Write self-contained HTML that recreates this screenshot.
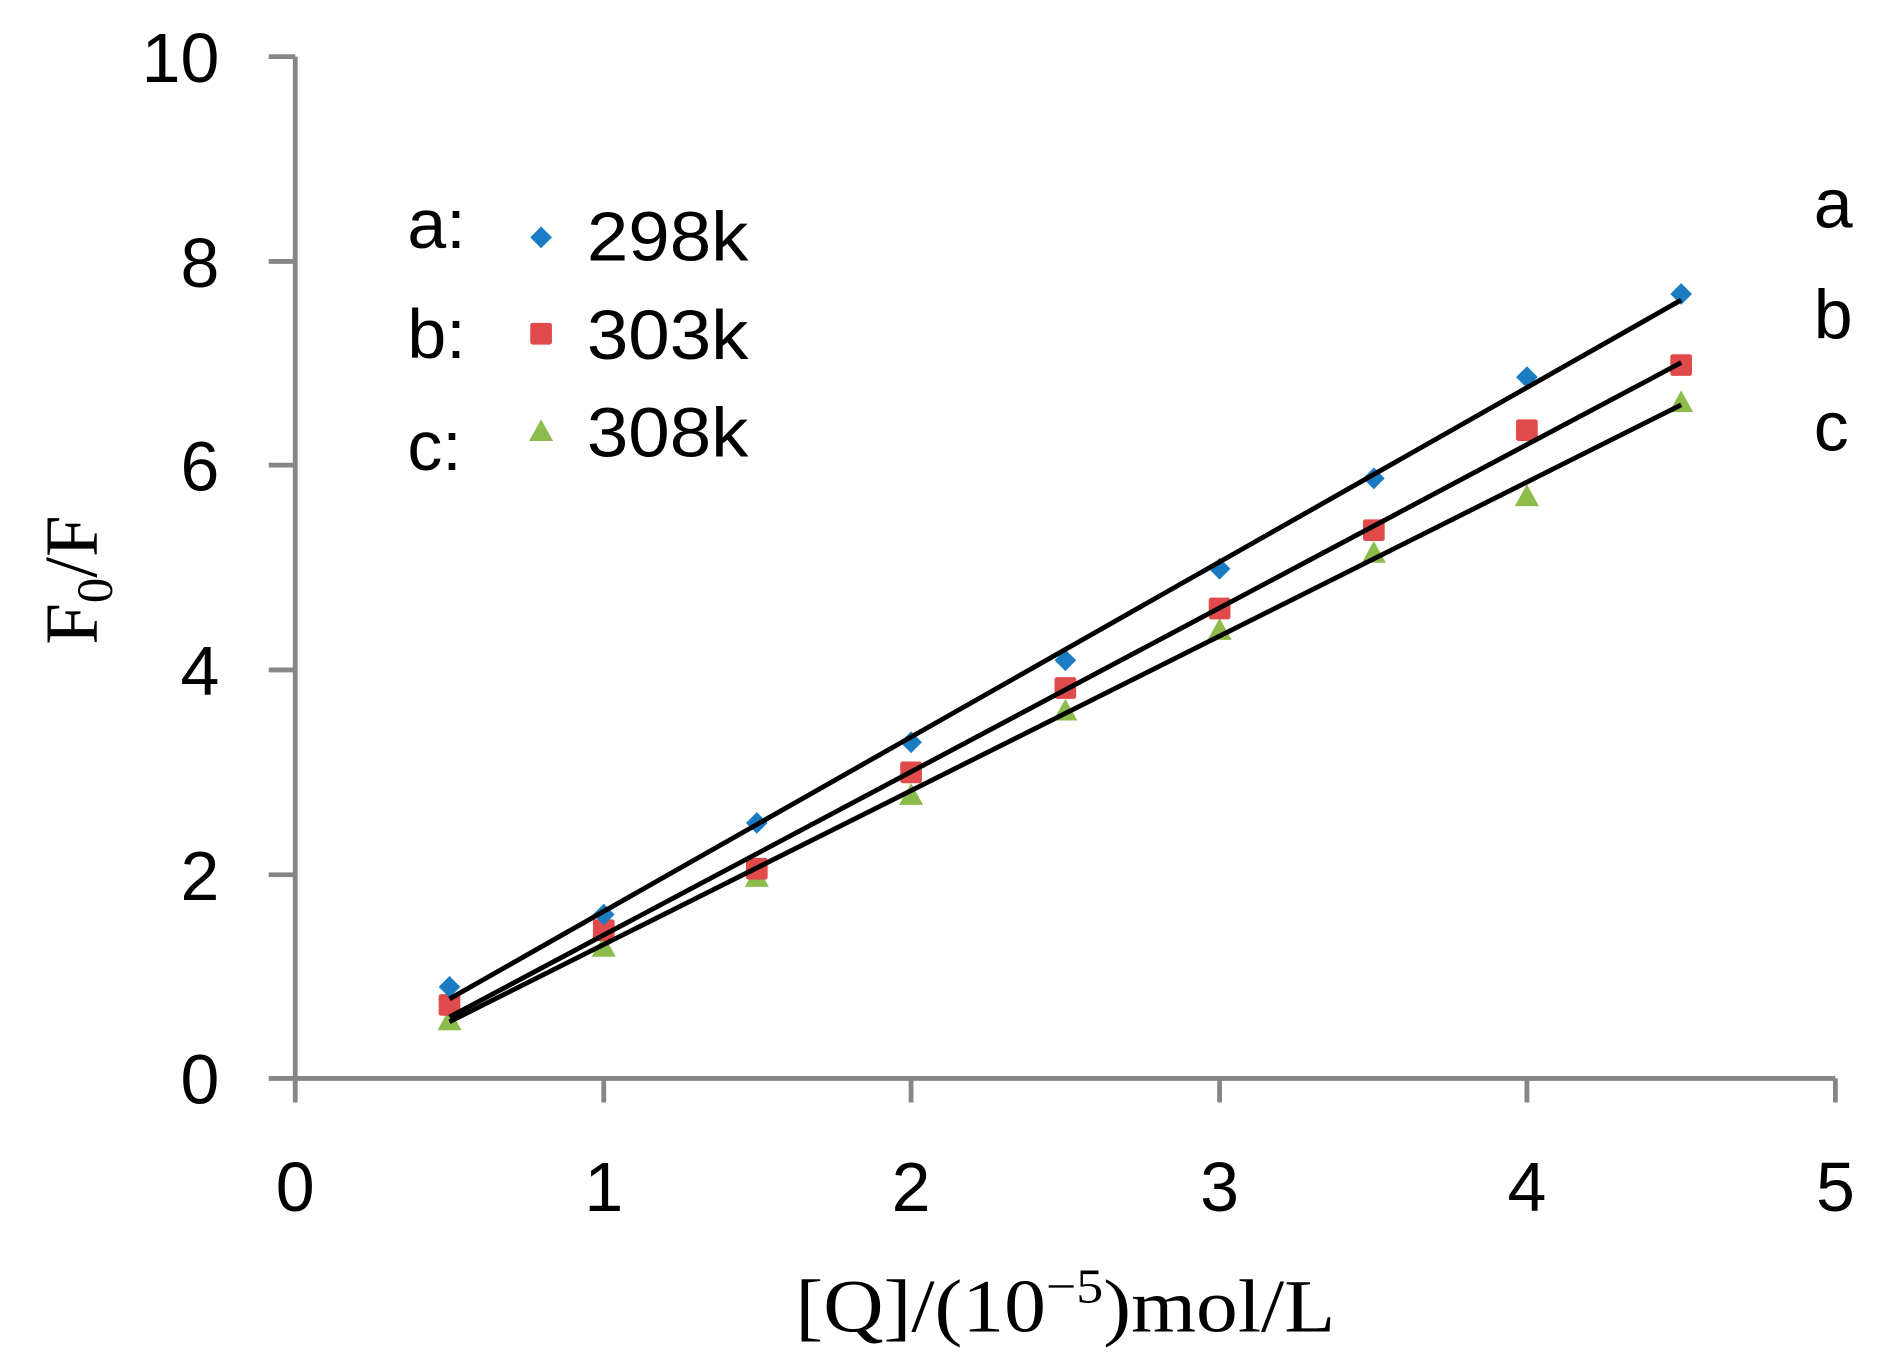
<!DOCTYPE html>
<html><head><style>html,body{margin:0;padding:0;background:#fff}svg{display:block}</style></head>
<body>
<svg width="1880" height="1370" viewBox="0 0 1560 1137" preserveAspectRatio="none" xmlns="http://www.w3.org/2000/svg">
<rect width="1560" height="1137" fill="#fff"/>
<g stroke="#868686" stroke-width="4" fill="none">
<line x1="245" y1="47" x2="245" y2="895"/>
<line x1="245" y1="895" x2="1523" y2="895"/>
<line x1="223" y1="47" x2="245" y2="47"/>
<line x1="223" y1="217" x2="245" y2="217"/>
<line x1="223" y1="386" x2="245" y2="386"/>
<line x1="223" y1="556" x2="245" y2="556"/>
<line x1="223" y1="726" x2="245" y2="726"/>
<line x1="223" y1="895" x2="245" y2="895"/>
<line x1="245" y1="895" x2="245" y2="915"/>
<line x1="501" y1="895" x2="501" y2="915"/>
<line x1="756" y1="895" x2="756" y2="915"/>
<line x1="1012" y1="895" x2="1012" y2="915"/>
<line x1="1267" y1="895" x2="1267" y2="915"/>
<line x1="1523" y1="895" x2="1523" y2="915"/>
</g>
<g font-family="Liberation Sans, sans-serif" font-size="58" fill="#000">
<g text-anchor="end">
<text x="182" y="68">10</text>
<text x="182" y="238">8</text>
<text x="182" y="407">6</text>
<text x="182" y="577">4</text>
<text x="182" y="747">2</text>
<text x="182" y="916">0</text>
</g>
<g text-anchor="middle">
<text x="245" y="1005">0</text>
<text x="501" y="1005">1</text>
<text x="756" y="1005">2</text>
<text x="1012" y="1005">3</text>
<text x="1267" y="1005">4</text>
<text x="1523" y="1005">5</text>
</g>
<text x="338" y="206">a:</text>
<text x="338" y="297">b:</text>
<text x="338" y="390">c:</text>
<text x="487" y="216" textLength="134" lengthAdjust="spacingAndGlyphs">298k</text>
<text x="487" y="298" textLength="134" lengthAdjust="spacingAndGlyphs">303k</text>
<text x="487" y="379" textLength="134" lengthAdjust="spacingAndGlyphs">308k</text>
<text x="1505" y="189">a</text>
<text x="1505" y="281">b</text>
<text x="1505" y="374">c</text>
</g>
<g font-family="Liberation Serif, serif" font-size="62" fill="#000">
<text x="660" y="1105" textLength="448" lengthAdjust="spacingAndGlyphs">[Q]/(10<tspan font-size="40" dy="-24">−5</tspan><tspan dy="24">)mol/L</tspan></text>
<text transform="translate(80,535) rotate(-90)">F<tspan font-size="42" dy="13">0</tspan><tspan dy="-13">/F</tspan></text>
</g>
<path d="M449,188 l9,9 l-9,9 l-9,-9z" fill="#1a7dc4"/>
<rect x="440" y="268" width="18" height="18" rx="2" fill="#e04a4a"/>
<path d="M449,348 l10,18 h-20z" fill="#8dbb4c"/>
<g fill="#8dbb4c">
<path d="M373,837 l10,18 h-20z"/><path d="M501,776 l10,18 h-20z"/><path d="M628,718 l10,18 h-20z"/>
<path d="M756,650 l10,18 h-20z"/><path d="M884,580 l10,18 h-20z"/><path d="M1012,513 l10,18 h-20z"/>
<path d="M1140,449 l10,18 h-20z"/><path d="M1267,402 l10,18 h-20z"/><path d="M1395,324 l10,18 h-20z"/>
</g>
<g fill="#e04a4a">
<rect x="364" y="825" width="18" height="18" rx="2"/><rect x="492" y="763" width="18" height="18" rx="2"/>
<rect x="619" y="712" width="18" height="18" rx="2"/><rect x="747" y="632" width="18" height="18" rx="2"/>
<rect x="875" y="562" width="18" height="18" rx="2"/><rect x="1003" y="496" width="18" height="18" rx="2"/>
<rect x="1131" y="431" width="18" height="18" rx="2"/><rect x="1258" y="348" width="18" height="18" rx="2"/>
<rect x="1386" y="294" width="18" height="18" rx="2"/>
</g>
<g fill="#1a7dc4">
<path d="M373,810 l9,9 l-9,9 l-9,-9z"/><path d="M501,750 l9,9 l-9,9 l-9,-9z"/><path d="M628,674 l9,9 l-9,9 l-9,-9z"/>
<path d="M756,607 l9,9 l-9,9 l-9,-9z"/><path d="M884,539 l9,9 l-9,9 l-9,-9z"/><path d="M1012,463 l9,9 l-9,9 l-9,-9z"/>
<path d="M1140,388 l9,9 l-9,9 l-9,-9z"/><path d="M1267,304 l9,9 l-9,9 l-9,-9z"/><path d="M1395,235 l9,9 l-9,9 l-9,-9z"/>
</g>
<g stroke="#000" stroke-width="4">
<line x1="373" y1="829" x2="1395" y2="249"/>
<line x1="373" y1="844" x2="1395" y2="301"/>
<line x1="373" y1="848" x2="1395" y2="336"/>
</g>
</svg>
</body></html>
